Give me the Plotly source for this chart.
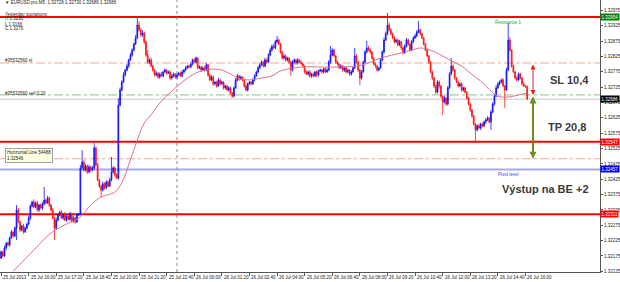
import pandas as pd
import plotly.graph_objects as go

# ---------------- data (prices in points above 1.32000) ----------------
BASE = 1.32
first_open_pts = 168
closes_pts = [
    188,175,201,217,211,234,253,240,266,325,
    286,260,273,253,266,279,299,338,351,335,
    348,325,341,331,344,357,348,364,341,325,
    299,266,292,309,318,299,312,292,305,295,
    312,289,299,286,309,312,462,481,455,468,
    449,465,455,462,527,472,423,403,390,410,
    397,416,403,423,449,462,439,429,667,716,
    742,765,781,794,814,830,846,866,886,928,
    912,895,902,873,830,807,814,794,781,765,
    771,758,768,762,775,781,771,775,755,762,
    768,758,765,771,762,775,781,788,794,791,
    801,814,807,820,788,791,781,788,781,798,
    765,749,758,736,742,729,749,736,742,723,
    729,716,723,706,696,723,749,762,752,758,
    749,729,716,736,742,736,749,762,775,788,
    798,807,794,814,807,830,846,859,853,873,
    879,866,840,820,827,814,820,807,781,807,
    814,804,814,807,801,794,775,768,775,762,
    768,762,775,765,778,781,775,785,775,781,
    807,830,846,827,807,801,788,794,781,788,
    775,781,768,775,788,827,807,781,755,775,
    807,840,853,846,840,820,801,794,781,788,
    814,840,879,899,928,912,899,886,873,879,
    863,873,853,837,859,879,866,846,873,886,
    892,905,912,899,886,866,846,827,807,775,
    755,729,709,742,729,696,677,690,670,723,
    768,794,781,755,742,729,736,716,723,709,
    690,670,651,631,605,586,599,592,605,599,
    612,618,625,612,644,670,696,723,736,742,
    749,729,716,781,879,846,794,775,755,749,
    768,755,736,729,728,686,
]
upper_wick_pts = [
    5,4,8,3,6,4,7,3,5,16,
    6,4,3,7,5,3,8,6,4,9,
    5,7,4,6,8,43,5,7,4,3,
    6,3,8,5,4,7,3,6,5,4,
    7,3,5,4,6,3,10,39,8,6,
    5,7,4,6,16,5,6,3,4,8,
    5,6,4,7,49,6,4,5,23,8,
    6,9,5,7,4,8,6,5,9,23,
    12,6,9,5,4,16,6,7,5,4,
    6,3,5,7,4,6,3,5,4,6,
    5,3,6,4,5,7,3,6,4,5,
    6,4,7,5,3,6,4,5,7,6,
    3,4,6,5,3,4,7,5,4,3,
    5,4,6,3,4,5,7,6,4,5,
    3,4,6,5,4,3,5,6,4,7,
    5,6,4,7,5,6,8,5,7,6,
    13,5,4,3,6,5,4,3,4,6,
    5,4,6,3,5,4,3,5,4,6,
    4,5,3,6,4,5,3,4,5,6,
    7,29,6,4,3,5,4,6,3,5,
    4,5,3,6,4,26,7,4,3,6,
    5,6,23,7,5,3,4,5,3,4,
    6,5,8,7,39,9,5,4,6,5,
    4,6,3,5,6,7,5,3,6,5,
    7,6,29,5,4,3,4,5,3,4,
    5,3,4,6,5,3,4,7,3,6,
    7,26,5,4,3,5,4,6,3,4,
    3,4,5,3,4,3,5,6,4,5,
    4,6,5,4,7,6,5,8,6,5,
    4,6,3,8,55,9,4,5,3,6,
    5,4,3,6,4,2,
]
lower_wick_pts = [
    4,6,3,5,4,6,3,5,4,39,
    5,7,4,6,3,5,4,7,5,6,
    4,5,7,3,6,4,5,3,6,8,
    5,39,6,4,5,3,7,4,6,5,
    4,6,5,7,3,4,4,5,6,4,
    7,5,6,4,5,6,4,7,23,5,
    6,4,5,3,5,6,7,4,6,5,
    4,3,5,4,6,3,5,4,3,5,
    6,7,5,8,6,5,7,4,6,5,
    4,6,5,3,5,4,6,3,7,5,
    4,6,5,3,4,5,6,4,3,5,
    4,5,3,6,5,4,7,3,5,4,
    6,5,4,7,5,6,4,5,3,6,
    5,4,6,5,6,4,3,5,6,4,
    5,6,4,5,3,6,4,5,3,4,
    4,3,5,4,6,3,4,5,3,4,
    5,4,6,5,4,6,5,7,19,5,
    4,6,5,4,3,5,6,4,5,7,
    6,5,4,7,5,4,6,5,4,3,
    4,5,3,4,6,5,4,3,5,6,
    5,4,6,5,3,4,5,6,23,5,
    3,4,5,4,6,5,4,7,5,4,
    3,4,5,3,4,5,6,4,5,3,
    5,4,6,5,3,4,6,5,3,4,
    4,5,3,6,4,5,3,4,6,5,
    7,6,5,4,8,6,42,5,6,4,
    3,4,5,6,4,5,3,6,5,4,
    6,5,7,5,6,43,5,4,6,5,
    4,6,3,5,26,4,5,3,4,6,
    5,4,59,3,4,5,6,4,5,6,
    4,5,6,3,5,0,
]
# moving average (read at sample bars)
ma_bar = [7,19,29,39,46,52,58,66,70,75,79,83,87,93,103,110,116,122,128,133,139,145,151,157,162,
          174,186,197,209,220,232,238,243,249,255,261,267,272,278,284,288,294,300,305]
ma_pts = [125,194,250,282,302,341,367,383,413,488,553,608,635,680,732,762,778,784,781,768,752,749,755,762,778,
          791,791,791,797,820,837,846,853,846,830,811,794,771,745,713,696,693,700,706]

x_tick_labels = ["25 Jul 2013", "25 Jul 16:00", "25 Jul 17:20", "25 Jul 18:40", "25 Jul 20:00",
                 "25 Jul 21:20", "25 Jul 22:40", "26 Jul 00:00", "26 Jul 01:20", "26 Jul 02:40",
                 "26 Jul 04:00", "26 Jul 05:20", "26 Jul 06:40", "26 Jul 08:00", "26 Jul 09:20",
                 "26 Jul 10:40", "26 Jul 12:00", "26 Jul 13:20", "26 Jul 14:40", "26 Jul 16:00"]
y_tick_values = [1.32125 + 0.0005 * k for k in range(18)]

resistance = 1.32954
support = 1.32547
pivot = 1.32457
lower_level = 1.32311
order_open = 1.32700
order_sl = 1.32804
order_tp = 1.32492
bid = 1.32686

# ---------------- derived series ----------------
n = len(closes_pts)
closes = [BASE + p / 1e5 for p in closes_pts]
opens_pts = [first_open_pts] + closes_pts[:-1]
opens = [BASE + p / 1e5 for p in opens_pts]
highs = [BASE + (max(o, c) + u) / 1e5 for o, c, u in zip(opens_pts, closes_pts, upper_wick_pts)]
lows = [BASE + (min(o, c) - l) / 1e5 for o, c, l in zip(opens_pts, closes_pts, lower_wick_pts)]
t0 = pd.Timestamp("2013-07-25 14:40")
times = pd.date_range(t0, periods=n, freq="5min")
ma_times = [t0 + pd.Timedelta(minutes=5 * b) for b in ma_bar]
ma_vals = [BASE + p / 1e5 for p in ma_pts]
tick_times = pd.date_range(t0, periods=len(x_tick_labels), freq="80min")

FONT = "Liberation Sans"
W, H = 620, 282
PW, PH = 600, 272


def px(x):
    return x / PW


def py(y):
    return 1 - y / PH


fig = go.Figure()
fig.add_trace(go.Candlestick(
    x=times, open=opens, high=highs, low=lows, close=closes,
    increasing=dict(line=dict(color="#1010ff", width=0.8), fillcolor="#1010ff"),
    decreasing=dict(line=dict(color="#ff1010", width=0.8), fillcolor="#ff1010"),
    whiskerwidth=0, hoverinfo="skip", showlegend=False,
))
fig.add_trace(go.Scatter(
    x=ma_times, y=ma_vals, mode="lines",
    line=dict(color="#dc7090", width=1, shape="spline", smoothing=1.0),
    hoverinfo="skip", showlegend=False,
))

shapes = []


def hline(y, color, width=1, dash="solid"):
    shapes.append(dict(type="line", xref="paper", x0=0, x1=1, yref="y", y0=y, y1=y,
                       line=dict(color=color, width=width, dash=dash), layer="below"))


hline(bid, "#c8c8c8", 1)
hline(order_sl, "#f4a88a", 1, "dashdot")
hline(order_tp, "#f4a88a", 1, "dashdot")
hline(order_open, "#86c486", 1, "dashdot")
hline(pivot, "#a8a8f4", 2)
hline(resistance, "#ff0000", 2)
hline(support, "#ff0000", 2)
hline(lower_level, "#ff0000", 2)
shapes.append(dict(type="line", xref="x", x0=pd.Timestamp("2013-07-25 23:10"), x1=pd.Timestamp("2013-07-25 23:10"),
                   yref="paper", y0=0, y1=1, line=dict(color="#8c8c8c", width=1, dash="dot"), layer="below"))

ann = []
small = dict(family=FONT, size=4.5, color="#222222")
for t, lab in zip(tick_times, x_tick_labels):
    ann.append(dict(x=t, xref="x", y=0, yref="paper", yshift=-1, text=lab, showarrow=False,
                    xanchor="left", yanchor="top", font=small))

# price boxes on the axis
for val, col in [(resistance, "#008000"), (bid, "#000000"), (support, "#ff0000"),
                 (pivot, "#0000ff"), (lower_level, "#ff0000")]:
    ann.append(dict(x=1, xref="paper", y=val, yref="y", text=f"{val:.5f}", showarrow=False,
                    xanchor="left", yanchor="middle", bgcolor=col, borderpad=0.5,
                    font=dict(family=FONT, size=4.5, color="#ffffff")))

# left texts
for txt, yy in [("\u25bc EURUSD.pro,M5  1.32728 1.32730 1.32686 1.32686", 3),
                ("Yesterday quotations:", 14), ("H 1.3296", 19), ("L 1.3166", 24), ("C 1.3276", 29),
                ("#35532560 sl", 60), ("#35532560 sell 0.20", 93)]:
    ann.append(dict(x=px(3), xref="paper", y=py(yy), yref="paper", text=txt, showarrow=False,
                    xanchor="left", yanchor="middle", font=small))
ann.append(dict(x=px(5), xref="paper", y=py(148), yref="paper",
                text="Horizontal Line 54488<br>1.32546", showarrow=False, align="left",
                xanchor="left", yanchor="top", bgcolor="#ffffe1", bordercolor="#a0a0a0",
                borderwidth=1, borderpad=1, font=small))
ann.append(dict(x=px(508), xref="paper", y=resistance, yref="y", yshift=-1, text="Resistance 1",
                showarrow=False, xanchor="center", yanchor="top",
                font=dict(family=FONT, size=4.5, color="#3a9a3a")))
ann.append(dict(x=px(508), xref="paper", y=pivot, yref="y", yshift=-1, text="Pivot level",
                showarrow=False, xanchor="center", yanchor="top",
                font=dict(family=FONT, size=4.5, color="#3c3cff")))

big = dict(family=FONT, size=11, color="#3a3a3a")
for txt, xx, yy in [("<b>SL 10,4</b>", 569, 80), ("<b>TP 20,8</b>", 567, 127),
                    ("<b>Výstup na BE +2</b>", 545, 189)]:
    ann.append(dict(x=px(xx), xref="paper", y=py(yy), yref="paper", text=txt, showarrow=False,
                    xanchor="center", yanchor="middle", font=big))

# double arrows
for top, bot, col, wd in [(order_sl, order_open, "#e02020", 1), (order_open, order_tp, "#6b8e23", 2)]:
    ann.append(dict(x=px(533), xref="paper", y=bot, yref="y", ax=0, axref="pixel", ay=top, ayref="y",
                    text="", showarrow=True, arrowhead=2, startarrowhead=2, arrowside="end+start",
                    arrowsize=1 if wd == 1 else 0.7, startarrowsize=1 if wd == 1 else 0.7,
                    arrowwidth=wd, arrowcolor=col, standoff=0, startstandoff=0))

fig.update_layout(
    width=W, height=H,
    margin=dict(l=0, r=W - PW, t=0, b=H - PH, autoexpand=False),
    paper_bgcolor="#ffffff", plot_bgcolor="#ffffff",
    showlegend=False, shapes=shapes, annotations=ann,
    xaxis=dict(type="date", range=[t0 - pd.Timedelta(minutes=3), t0 + pd.Timedelta(minutes=5 * 347.2)],
               rangeslider=dict(visible=False), showgrid=False, zeroline=False,
               showline=True, linecolor="#555555", linewidth=1,
               tickvals=list(tick_times), ticktext=x_tick_labels, showticklabels=False,
               ticks="outside", ticklen=3, tickcolor="#555555", fixedrange=True),
    yaxis=dict(side="right", range=[BASE + 122.7 / 1e5, BASE + 1009.4 / 1e5],
               showgrid=False, zeroline=False, showline=True, linecolor="#555555", linewidth=1,
               tickvals=y_tick_values, ticktext=[f"{v:.5f}" for v in y_tick_values],
               ticks="outside", ticklen=2, tickcolor="#555555",
               tickfont=dict(family=FONT, size=4.5, color="#222222"), fixedrange=True),
    font=dict(family=FONT),
)

fig.write_html("out.html", config={"displayModeBar": False})
